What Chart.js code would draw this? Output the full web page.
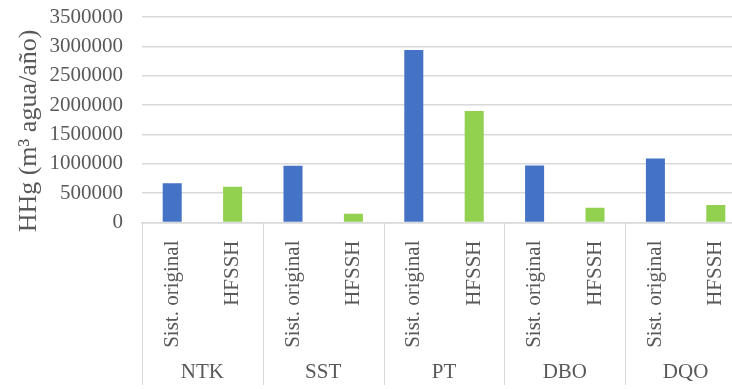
<!DOCTYPE html>
<html lang="es">
<head>
  <meta charset="UTF-8" />
  <title>HHg por parámetro</title>
  <script src="https://cdn.jsdelivr.net/npm/chart.js"></script>
  <style>
    html, body {
      margin: 0;
      padding: 0;
      background: #fff;
      overflow: hidden;
    }
    #chart-container {
      width: 751px;
      height: 389px;
    }
  </style>
</head>
<body>
  <div id="chart-container">
    <canvas id="hhgChart"></canvas>
  </div>

  <script>
    // data
    const groups = ['NTK', 'SST', 'PT', 'DBO', 'DQO'];
    const systems = ['Sist. original', 'HFSSH'];
    const sistOriginal = [670000, 965000, 2940000, 970000, 1090000];
    const hfssh = [610000, 150000, 1900000, 250000, 300000];
    const yTicks = [0, 500000, 1000000, 1500000, 2000000, 2500000, 3000000, 3500000];

    const BLUE = '#4472C4';
    const GREEN = '#92D050';
    const TEXT = '#595959';
    const GRID = '#d9d9d9';
    const SERIF = '"Liberation Serif", "Times New Roman", serif';

    // one category per bar, grouped two by two
    const labels = [];
    const values = [];
    const colors = [];
    groups.forEach((g, i) => {
      labels.push(systems[0]); values.push(sistOriginal[i]); colors.push(BLUE);
      labels.push(systems[1]); values.push(hfssh[i]); colors.push(GREEN);
    });

    // second level of the x axis + y title
    const multiLevel = {
      id: 'multiLevel',
      afterDraw(chart) {
        const ctx = chart.ctx;
        const x = chart.scales.x;
        const area = chart.chartArea;
        const slot = (x.getPixelForValue(1) - x.getPixelForValue(0));
        ctx.save();
        ctx.strokeStyle = GRID;
        ctx.lineWidth = 1;
        for (let i = 0; i <= groups.length; i++) {
          const px = Math.round(x.getPixelForValue(i * 2) - slot / 2) + 0.5;
          ctx.beginPath();
          ctx.moveTo(px, area.bottom);
          ctx.lineTo(px, 385);
          ctx.stroke();
        }
        ctx.fillStyle = TEXT;
        ctx.font = '21px ' + SERIF;
        ctx.textAlign = 'center';
        ctx.textBaseline = 'middle';
        groups.forEach((g, i) => {
          const cx = (x.getPixelForValue(i * 2) + x.getPixelForValue(i * 2 + 1)) / 2;
          ctx.fillText(g, cx, 372);
        });
        ctx.translate(29, 131);
        ctx.rotate(-Math.PI / 2);
        ctx.font = '26px ' + SERIF;
        ctx.fillText('HHg (m³ agua/año)', 0, 0);
        ctx.restore();
      }
    };

    const ctx = document.getElementById('hhgChart').getContext('2d');
    new Chart(ctx, {
      type: 'bar',
      data: {
        labels: labels,
        datasets: [{
          data: values,
          backgroundColor: colors,
          borderWidth: 0,
          categoryPercentage: 1,
          barPercentage: 0.315
        }]
      },
      options: {
        responsive: true,
        maintainAspectRatio: false,
        animation: false,
        layout: { padding: { top: 17, right: 0, bottom: 0, left: 0 } },
        plugins: {
          legend: { display: false },
          tooltip: { enabled: false }
        },
        scales: {
          x: {
            grid: { display: false },
            border: { display: true, color: GRID, width: 1.5 },
            ticks: {
              color: TEXT,
              font: { family: SERIF, size: 21 },
              minRotation: 90,
              maxRotation: 90,
              autoSkip: false,
              padding: 10
            },
            afterFit(scale) { scale.height = 166.5; }
          },
          y: {
            min: yTicks[0],
            max: yTicks[yTicks.length - 1],
            afterBuildTicks(scale) {
              scale.ticks = yTicks.map(v => ({ value: v }));
            },
            grid: { color: GRID, lineWidth: 1.5, drawTicks: false },
            border: { display: false },
            ticks: {
              color: TEXT,
              font: { family: SERIF, size: 21 },
              padding: 19,
              autoSkip: false,
              callback: v => String(v)
            },
            afterFit(scale) {
              scale.width = 142;
              scale.paddingTop = 0;
              scale.paddingBottom = 0;
            }
          }
        }
      },
      plugins: [multiLevel]
    });
  </script>
</body>
</html>
